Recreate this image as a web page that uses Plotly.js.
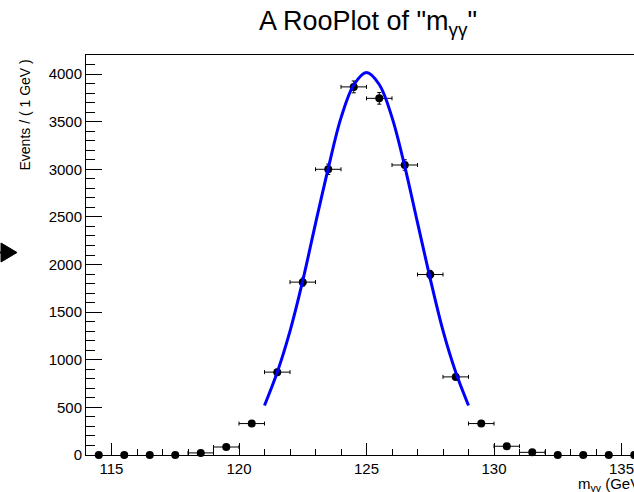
<!DOCTYPE html>
<html>
<head>
<meta charset="utf-8">
<script src="https://cdn.plot.ly/plotly-3.0.1.min.js"></script>
<style>
  html, body { margin: 0; padding: 0; overflow: hidden; background: #fff; }
  #chart { width: 660px; height: 492px; }
</style>
</head>
<body>
<div id="chart"></div>
<script>
// Binned data (bin centres, counts, errors)
const binCenters = [114.5, 115.5, 116.5, 117.5, 118.5, 119.5, 120.5, 121.5, 122.5, 123.5, 124.5,
                    125.5, 126.5, 127.5, 128.5, 129.5, 130.5, 131.5, 132.5, 133.5, 134.5, 135.5];
const counts = [0, 0, 0, 0, 22, 84, 330, 870, 1815, 3000, 3865,
                3745, 3045, 1895, 820, 330, 92, 28, 0, 0, 0, 0];
const countErrors = [0, 0, 0, 0, 4.7, 9.2, 18, 29.5, 42.6, 54.8, 62.2,
                     61.2, 55.2, 43.5, 28.6, 18.2, 9.6, 5.3, 0, 0, 0, 0];
const halfBinWidths = [0, 0, 0, 0, 0.5, 0.5, 0.5, 0.5, 0.5, 0.5, 0.5,
                       0.5, 0.5, 0.5, 0.5, 0.5, 0.5, 0.5, 0, 0, 0, 0];

// Fitted model curve
const curveX = [121, 121.5, 122, 122.5, 123, 123.5, 124, 124.5, 125,
                125.5, 126, 126.5, 127, 127.5, 128, 128.5, 129];
const curveY = [520, 868, 1300, 1830, 2430, 3010, 3540, 3885, 4015,
                3890, 3545, 3030, 2440, 1850, 1305, 868, 520];

const xTickVals = [115, 120, 125, 130, 135];
const xTickText = ['115', '120', '125', '130', '135'];
const yTickVals = [0, 500, 1000, 1500, 2000, 2500, 3000, 3500, 4000];
const yTickText = ['0', '500', '1000', '1500', '2000', '2500', '3000', '3500', '4000'];

const titleText = 'A RooPlot of "m<sub>γγ</sub>"';
const yTitleText = 'Events / ( 1 GeV )';
const xTitleText = 'm<sub>γγ</sub> (GeV)';

const FONT = 'Liberation Sans, Arial, Helvetica, sans-serif';

const dataTrace = {
  type: 'scatter',
  mode: 'markers',
  x: binCenters,
  y: counts,
  marker: { color: 'black', size: 8, symbol: 'circle' },
  error_x: { type: 'data', array: halfBinWidths, visible: true, color: 'black', thickness: 1, width: 2 },
  error_y: { type: 'data', array: countErrors, visible: true, color: 'black', thickness: 1, width: 2 },
  hoverinfo: 'x+y',
  showlegend: false,
  cliponaxis: false
};

const curveTrace = {
  type: 'scatter',
  mode: 'lines',
  x: curveX,
  y: curveY,
  line: { color: '#0000ff', width: 3, shape: 'spline', smoothing: 1 },
  showlegend: false
};

const W = 660, H = 492;
const L = 86, R = 13, T = 55, B = 37;
const pw = W - L - R, ph = H - T - B;
function px2paperX(px) { return (px - L) / pw; }
function px2paperY(py) { return (H - B - py) / ph; }

const layout = {
  width: W,
  height: H,
  margin: { l: L, r: R, t: T, b: B, pad: 0 },
  paper_bgcolor: 'white',
  plot_bgcolor: 'white',
  font: { family: FONT, color: 'black', size: 15 },
  title: {
    text: titleText,
    font: { family: FONT, size: 27, color: 'black' },
    xref: 'container', yref: 'container',
    x: 368 / W, xanchor: 'center',
    y: 1 - 21 / H, yanchor: 'middle'
  },
  xaxis: {
    range: [114, 136],
    tickmode: 'array', tickvals: xTickVals, ticktext: xTickText,
    ticks: 'inside', ticklen: 12, tickwidth: 1, tickcolor: 'black',
    minor: { dtick: 1, tick0: 114, ticks: 'inside', ticklen: 6, tickwidth: 1, tickcolor: 'black', showgrid: false },
    showgrid: false, zeroline: false,
    showline: true, linecolor: 'black', linewidth: 1, mirror: true,
    tickfont: { family: FONT, size: 15, color: 'black' }
  },
  yaxis: {
    range: [0, 4200],
    tickmode: 'array', tickvals: yTickVals, ticktext: yTickText,
    ticks: 'inside', ticklen: 16, tickwidth: 1, tickcolor: 'black',
    minor: { dtick: 100, tick0: 0, ticks: 'inside', ticklen: 9, tickwidth: 1, tickcolor: 'black', showgrid: false },
    showgrid: false, zeroline: false,
    showline: true, linecolor: 'black', linewidth: 1, mirror: true,
    tickfont: { family: FONT, size: 15, color: 'black' }
  },
  annotations: [
    {
      text: yTitleText, textangle: -90,
      xref: 'paper', yref: 'paper',
      x: px2paperX(25), xanchor: 'center',
      y: px2paperY(58), yanchor: 'top',
      showarrow: false,
      font: { family: FONT, size: 14, color: 'black' }
    },
    {
      text: xTitleText,
      xref: 'paper', yref: 'paper',
      x: 1, xanchor: 'right',
      y: px2paperY(484), yanchor: 'middle',
      showarrow: false,
      font: { family: FONT, size: 15, color: 'black' }
    }
  ],
  shapes: [
    {
      type: 'path', xref: 'paper', yref: 'paper', layer: 'above',
      path: 'M ' + px2paperX(1) + ' ' + px2paperY(243) +
            ' L ' + px2paperX(17) + ' ' + px2paperY(252.5) +
            ' L ' + px2paperX(1) + ' ' + px2paperY(262) + ' Z',
      fillcolor: 'black', line: { color: 'black', width: 1 }
    },
    {
      type: 'line', xref: 'paper', yref: 'paper', layer: 'above',
      x0: px2paperX(0), y0: px2paperY(252.5), x1: px2paperX(4), y1: px2paperY(252.5),
      line: { color: 'black', width: 2 }
    }
  ]
};

Plotly.newPlot('chart', [dataTrace, curveTrace], layout, { displayModeBar: false, staticPlot: true });
</script>
</body>
</html>
